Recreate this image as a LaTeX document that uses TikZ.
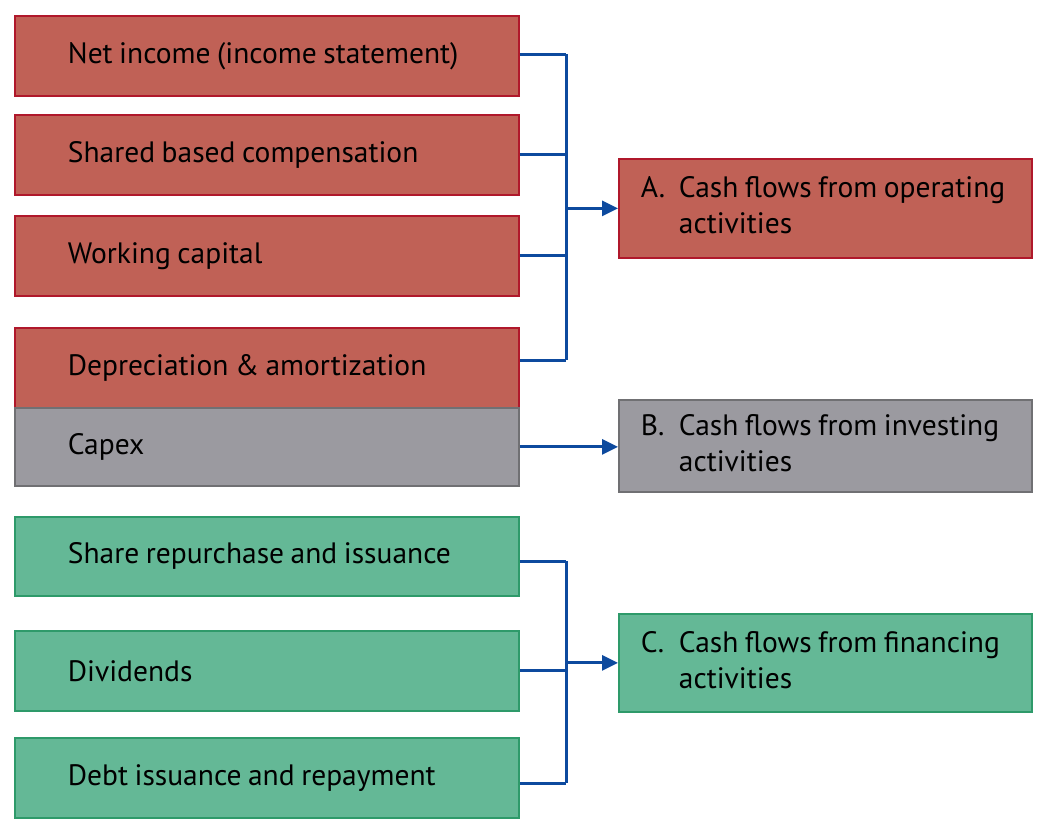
\documentclass[tikz,border=0pt]{standalone}
\usepackage{fontspec}
\setmainfont{PT Sans}
\usetikzlibrary{arrows.meta}
\definecolor{redfill}{HTML}{C06156}
\definecolor{redline}{HTML}{B0182B}
\definecolor{grayfill}{HTML}{9B9AA0}
\definecolor{grayline}{HTML}{707073}
\definecolor{greenfill}{HTML}{64B896}
\definecolor{greenline}{HTML}{2E9A6A}
\definecolor{bus}{HTML}{0D4A9E}
\newcommand{\tightsp}{\spaceskip=6.5pt plus 2pt minus 1pt\relax}
\begin{document}
\begin{tikzpicture}[x=1pt,y=-1pt,
  base/.style={rectangle, line width=1.8pt, anchor=north west, inner xsep=0pt, inner ysep=0pt,
    align=left, font=\fontsize{29.5}{36}\selectfont, text=black},
  leftbox/.style={base, minimum width=504pt, text width=504pt, minimum height=80pt,
    execute at begin node={\tightsp\hspace*{53pt}}},
  rightbox/.style={base, minimum width=413pt, text width=413pt,
    execute at begin node={\tightsp}},
  redbox/.style={fill=redfill, draw=redline},
  graybox/.style={fill=grayfill, draw=grayline},
  greenbox/.style={fill=greenfill, draw=greenline},
  conn/.style={draw=bus, line width=3pt},
  arr/.style={conn, -{Triangle[length=16pt,width=15pt]}}
]
\useasboundingbox (0,0) rectangle (1050,838);
% left boxes
\node[leftbox, redbox] (ni) at (14,15) {Net income (income statement)};
\node[leftbox, redbox] (sbc) at (14,114) {Shared based compensation};
\node[leftbox, redbox] (wc) at (14,215) {Working capital};
\node[leftbox, redbox] (da) at (14,327) {Depreciation \& amortization};
\node[leftbox, graybox, minimum height=78pt] (cap) at (14,407) {Capex};
\node[leftbox, greenbox, minimum height=79pt] (sr) at (14,516) {Share repurchase and issuance};
\node[leftbox, greenbox] (div) at (14,630) {Dividends};
\node[leftbox, greenbox] (debt) at (14,737) {Debt issuance and repayment};
% right boxes
\node[rightbox, redbox, minimum height=99pt] (A) at (618,158)
  {\hspace*{22pt}\begin{tabular}{@{}p{24pt}@{\hspace{14pt}}l@{}}A. & \tightsp Cash flows from operating\\ & activities\end{tabular}};
\node[rightbox, graybox, minimum height=92pt] (B) at (618,399)
  {\hspace*{22pt}\begin{tabular}{@{}p{24pt}@{\hspace{14pt}}l@{}}B. & \tightsp Cash flows from investing\\ & activities\end{tabular}};
\node[rightbox, greenbox, minimum height=98pt] (C) at (618,613)
  {\hspace*{22pt}\begin{tabular}{@{}p{24pt}@{\hspace{14pt}}l@{}}C. & \tightsp Cash flows from financing\\ & activities\end{tabular}};
% bus coordinates
\coordinate (b1) at (566,54);
\coordinate (b2) at (566,360);
\coordinate (b3) at (566,561);
\coordinate (b4) at (566,783);
% operating
\draw[conn] (b1) -- (b2);
\draw[conn] (ni.east |- b1) -- (b1);
\draw[conn] (sbc.east) -- (sbc.east -| b1);
\draw[conn] (wc.east) -- (wc.east -| b1);
\draw[conn] (da.east |- b2) -- (b2);
\draw[arr] (b1 |- A.west) -- (A.west);
% investing
\draw[arr] (cap.east) -- (cap.east -| B.west);
% financing
\draw[conn] (b3) -- (b4);
\draw[conn] (sr.east |- b3) -- (b3);
\draw[conn] (div.east) -- (div.east -| b1);
\draw[arr] (b1 |- C.west) -- (C.west);
\draw[conn] (debt.east |- b4) -- (b4);
\end{tikzpicture}
\end{document}
